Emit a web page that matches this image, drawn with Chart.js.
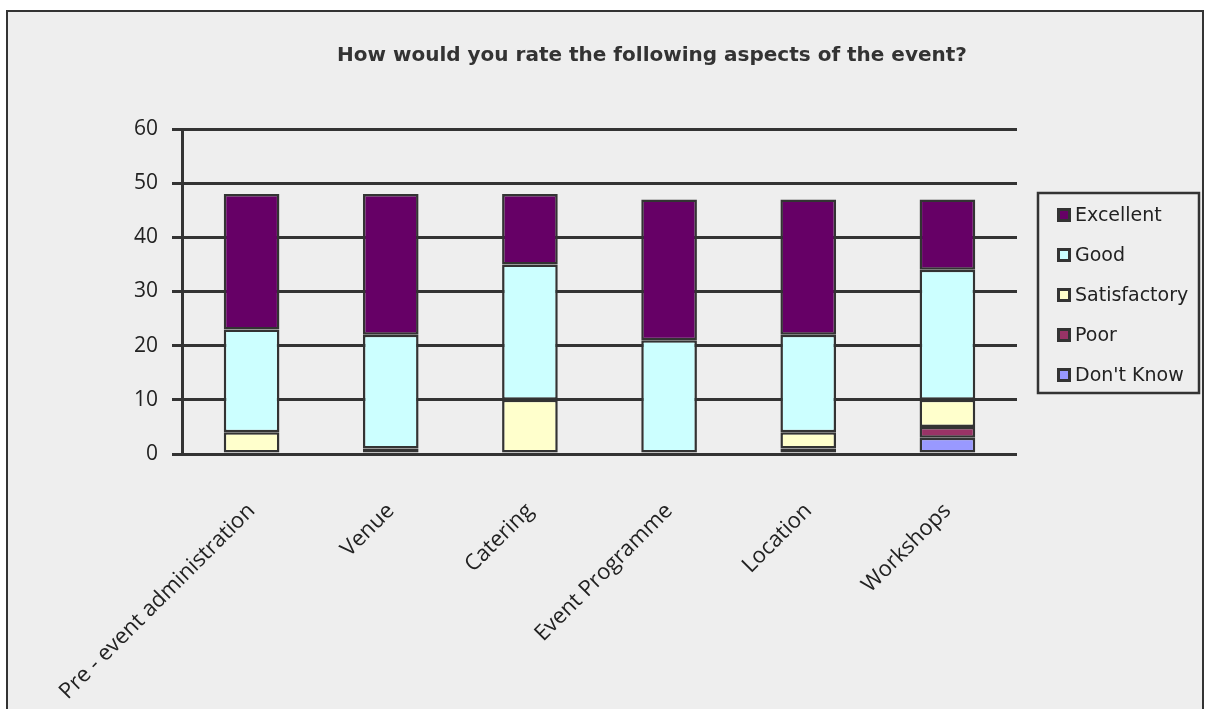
<!DOCTYPE html>
<html>
<head>
<meta charset="utf-8">
<title>Event rating survey</title>
<script src="https://cdn.jsdelivr.net/npm/chart.js@4.4.1/dist/chart.umd.min.js"></script>
<style>
  html, body { margin: 0; padding: 0; background: #ffffff; overflow: hidden; }
  #frame {
    position: absolute; left: 6px; top: 10px;
    width: 1194px; height: 720px;
    border: 2px solid #333333; background: #eeeeee;
  }
  #chart { position: absolute; left: 0; top: 0; }
</style>
</head>
<body>
<div id="frame"></div>
<canvas id="chart" width="1209" height="709"></canvas>
<script>
// survey answers per aspect
const aspects = ['Pre - event administration', 'Venue', 'Catering', 'Event Programme', 'Location', 'Workshops'];
const dontKnow     = [0, 0, 0, 0, 0, 3];
const poor         = [0, 0, 0, 0, 1, 2];
const satisfactory = [4, 1, 10, 0, 3, 5];
const good         = [19, 21, 25, 21, 18, 24];
const excellent    = [25, 26, 13, 26, 25, 13];
const yTicks = [0, 10, 20, 30, 40, 50, 60];

const titleText = 'How would you rate the following aspects of the event?';

const series = [
  { label: "Don't Know", data: dontKnow, color: '#9999ff' },
  { label: 'Poor', data: poor, color: '#993366' },
  { label: 'Satisfactory', data: satisfactory, color: '#ffffcc' },
  { label: 'Good', data: good, color: '#ccffff' },
  { label: 'Excellent', data: excellent, color: '#660066' },
];

// title + boxed legend, drawn after the chart
const extras = {
  id: 'extras',
  afterDraw(chart) {
    const ctx = chart.ctx;
    ctx.save();
    ctx.fillStyle = '#333333';
    ctx.font = 'bold 20px "DejaVu Sans"';
    ctx.textAlign = 'center';
    ctx.textBaseline = 'middle';
    ctx.fillText(titleText, 652, 56);

    // legend box
    ctx.lineWidth = 2.5;
    ctx.strokeStyle = '#333333';
    ctx.fillStyle = '#eeeeee';
    ctx.fillRect(1038, 193, 161, 200);
    ctx.strokeRect(1038, 193, 161, 200);

    const items = chart.data.datasets.slice().reverse();
    ctx.font = '19px "DejaVu Sans"';
    ctx.textAlign = 'left';
    items.forEach((ds, i) => {
      const cy = 215 + i * 40;
      ctx.fillStyle = '#333333';
      ctx.fillRect(1057, cy - 7, 14, 14);
      ctx.fillStyle = ds.backgroundColor;
      ctx.fillRect(1060, cy - 4, 8, 8);
      ctx.fillStyle = '#222222';
      ctx.fillText(ds.label, 1075, cy + 1);
    });
    ctx.restore();
  }
};

new Chart(document.getElementById('chart'), {
  type: 'bar',
  data: {
    labels: aspects,
    datasets: series.map(s => ({
      label: s.label,
      data: s.data.map(v => v || null),
      backgroundColor: s.color,
      borderColor: '#333333',
      borderWidth: 2.5,
      borderSkipped: false,
      barPercentage: 0.4,
      categoryPercentage: 1,
    })),
  },
  options: {
    responsive: false,
    animation: false,
    layout: { padding: { left: 100, top: 129, right: 192, bottom: 0 } },
    plugins: {
      legend: { display: false },
      title: { display: false },
      tooltip: { enabled: false },
    },
    scales: {
      x: {
        stacked: true,
        grid: { display: false },
        border: { display: false },
        ticks: {
          autoSkip: false,
          maxRotation: 45,
          minRotation: 45,
          padding: 36,
          color: '#222222',
          font: { family: 'Open Sans', size: 22 },
        },
        afterFit(scale) { scale.height = 255; },
      },
      y: {
        stacked: true,
        min: 0,
        max: 60,
        afterBuildTicks(scale) { scale.ticks = yTicks.map(v => ({ value: v })); },
        grid: { color: '#333333', lineWidth: 3, tickLength: 10, drawTicks: true },
        border: { display: true, color: '#333333', width: 3 },
        ticks: {
          padding: 14,
          color: '#222222',
          font: { family: 'Open Sans', size: 21 },
        },
        afterFit(scale) { scale.width = 82; },
      },
    },
  },
  plugins: [extras],
});
</script>
</body>
</html>
